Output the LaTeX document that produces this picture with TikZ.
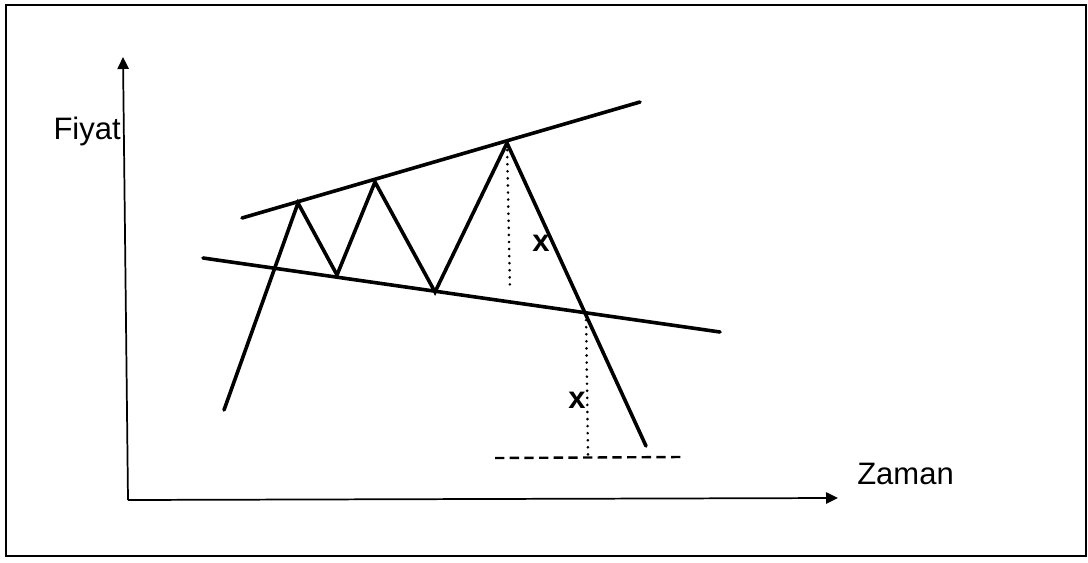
\documentclass[tikz,border=0pt]{standalone}
\usepackage{fontspec}
\setmainfont{Liberation Sans}
\usepackage{tikz}
\usetikzlibrary{arrows.meta,positioning,calc}
\tikzset{
  axis/.style={-{Triangle[length=9pt,width=8.5pt]}, line width=1.3pt, draw=black},
  trend/.style={line width=2.7pt, draw=black, line cap=round},
  price/.style={line width=2.7pt, draw=black, line cap=round, line join=miter},
  measure/.style={line width=2.1pt, draw=black, dash pattern=on 0.1pt off 5.2pt, line cap=round},
  target/.style={line width=1.8pt, draw=black, dash pattern=on 7pt off 4pt},
  lbl/.style={font=\fontsize{23.25}{28}\selectfont, inner sep=0pt},
  xlbl/.style={font=\fontsize{23.25}{28}\selectfont\bfseries, inner sep=0pt}
}
\begin{document}
\begin{tikzpicture}[x=0.75pt,y=-0.75pt]
  \useasboundingbox (0,0) rectangle (1088,563);
  \draw[line width=1.3pt] (6,5) rectangle (1086,556);
  % axes
  \coordinate (o) at (128,500);
  \coordinate (ytop) at (123,57);
  \coordinate (xend) at (838,498);
  \draw[axis] (o) -- (ytop);
  \draw[axis] (o) -- (xend);
  \node[lbl, anchor=base east] (fiyat) at (121,140) {Fiyat};
  \node[lbl, anchor=base west] (zaman) at (857,484) {Zaman};
  % trend lines
  \coordinate (u1) at (242,218);
  \coordinate (u2) at (640,102);
  \coordinate (l1) at (203,258);
  \coordinate (l2) at (720,332);
  \draw[trend] (u1) -- (u2);
  \draw[trend] (l1) -- (l2);
  % price
  \coordinate (p0) at (224,410);
  \coordinate (p1) at (298,203);
  \coordinate (p2) at (337,275);
  \coordinate (p3) at (375,182);
  \coordinate (p4) at (435,292);
  \coordinate (p5) at (507,143);
  \coordinate (p6) at (646,446);
  \draw[price] (p0) -- (p1) -- (p2) -- (p3) -- (p4) -- (p5) -- (p6);
  % height and target
  \coordinate (h1) at (510,291);
  \coordinate (b) at (586,313);
  \coordinate (b1) at (588,455);
  \coordinate (t1) at (495,458);
  \coordinate (t2) at (683,457);
  \draw[measure] (p5) -- (h1);
  \draw[measure] (b) -- (b1);
  \draw[target] (t1) -- (t2);
  \node[xlbl] (x1) at (541,243) {x};
  \node[xlbl] (x2) at (577,400) {x};
\end{tikzpicture}
\end{document}
